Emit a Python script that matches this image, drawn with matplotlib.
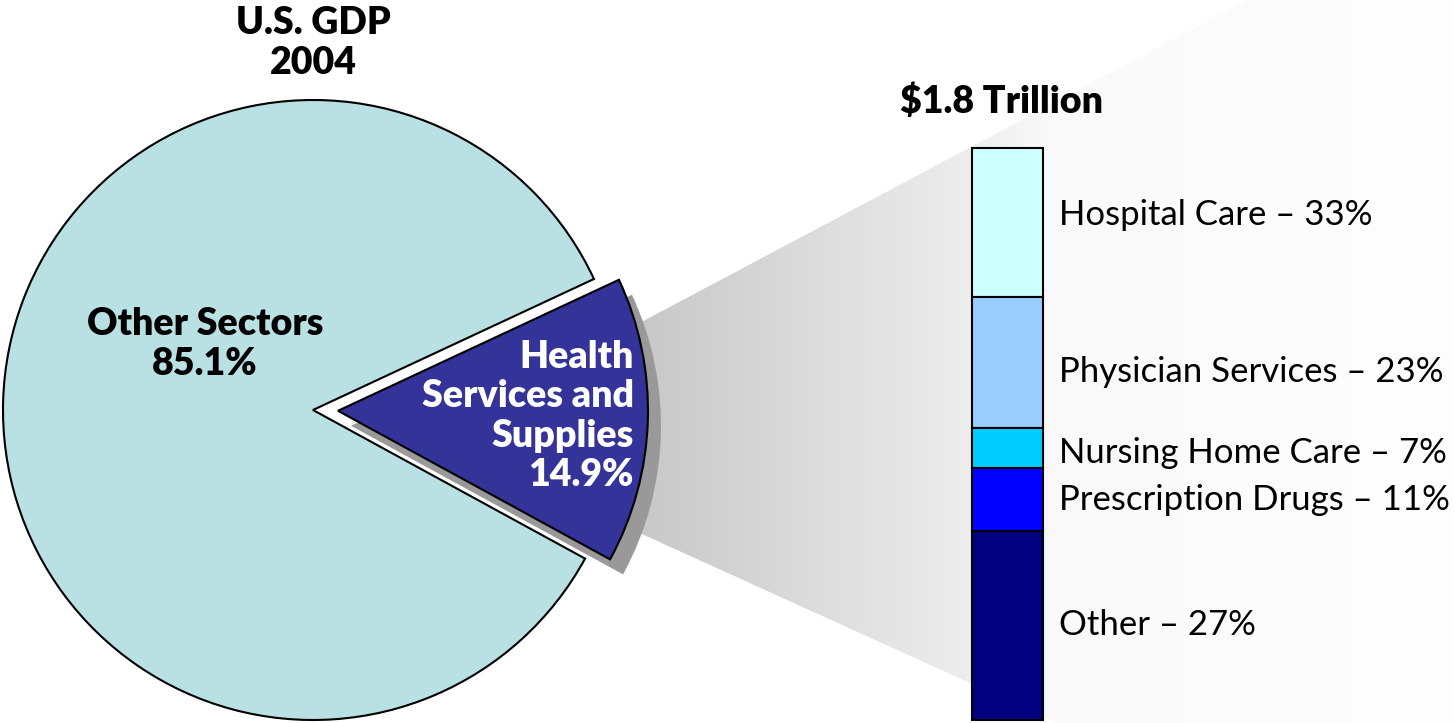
import numpy as np
import matplotlib
matplotlib.use("Agg")
import matplotlib.pyplot as plt
from matplotlib.patches import Wedge, Polygon

plt.rcParams['font.family'] = ['Lato', 'DejaVu Sans']

# ---- data ----
pie_labels = ["Other Sectors", "Health\nServices and\nSupplies"]
pie_values = [85.1, 14.9]
pie_colors = ["#b9e0e3", "#333399"]

bar_categories = ["Hospital Care", "Physician Services", "Nursing Home Care",
                  "Prescription Drugs", "Other"]
bar_label_pct = [33, 23, 7, 11, 27]
# segment heights as drawn in the picture (top -> bottom)
bar_segment_share = [26, 23, 7, 11, 33]
bar_colors = ["#ccffff", "#99ccff", "#00ccff", "#0000ff", "#000080"]

title_left = "U.S. GDP\n2004"
title_right = "$1.8 Trillion"

W, H = 1454, 723
fig = plt.figure(figsize=(W / 100, H / 100), dpi=100)
ax = fig.add_axes([0, 0, 1, 1])
ax.set_xlim(0, W)
ax.set_ylim(0, H)
ax.axis('off')

def Y(y_img):
    return H - y_img

BOLD_SIZE = 27
REG_SIZE = 25

# ---- gradient wedge (zoom connector) ----
poly_pts = [(600, Y(344)), (1454, Y(344) + 0.531 * 854),
            (1454, Y(533) - 0.456 * 811), (600, Y(515))]
poly = Polygon(poly_pts, closed=True, facecolor='none', edgecolor='none')
ax.add_patch(poly)
xs = np.linspace(600, 1454, 800)
vals = np.interp(xs, [640, 965, 1050, 1250, 1454], [200, 237, 249, 252, 254]) / 255.0
img = np.stack([vals, vals, vals], axis=-1)[np.newaxis, :, :].repeat(2, axis=0)
im = ax.imshow(img, extent=[600, 1454, 0, H], aspect='auto', zorder=0,
               interpolation='bilinear')
im.set_clip_path(poly)

# ---- pie ----
cx, cy, R = 313, Y(410), 310
wedges, _ = ax.pie(pie_values, colors=pie_colors, startangle=25,
                   explode=[0, 25], center=(cx, cy), radius=R,
                   wedgeprops=dict(edgecolor='black', linewidth=1.5, zorder=3),
                   frame=True)
ax.set_aspect('auto')
ax.set_xlim(0, W)
ax.set_ylim(0, H)
ax.axis('off')

hw = wedges[1]
shadow = Wedge((hw.center[0] + 13, hw.center[1] - 15), hw.r, hw.theta1, hw.theta2,
               facecolor='#999999', edgecolor='none', zorder=2)
ax.add_patch(shadow)

# pie labels
ax.text(205, Y(344), f"{pie_labels[0]}\n{pie_values[0]:.1f}%", ha='center', va='center',
        fontsize=BOLD_SIZE, fontweight='heavy', color='black', linespacing=1.2, zorder=5)
ax.text(634, Y(416), f"{pie_labels[1]}\n{pie_values[1]:.1f}%", ha='right', va='center',
        fontsize=BOLD_SIZE, fontweight='heavy', color='white', linespacing=1.2, zorder=5)

ax.text(313, Y(43), title_left, ha='center', va='center', fontsize=BOLD_SIZE,
        fontweight='heavy', linespacing=1.2)
ax.text(1002, Y(101), title_right, ha='center', va='center', fontsize=BOLD_SIZE,
        fontweight='heavy')

# ---- stacked bar ----
bx0, bx1, btop, bbot = 972, 1043, 148, 720
bax = fig.add_axes([bx0 / W, (H - bbot) / H, (bx1 - bx0) / W, (bbot - btop) / H])
bax.set_xlim(0, 1)
bax.set_ylim(0, sum(bar_segment_share))
bax.axis('off')
bottom = sum(bar_segment_share)
for share, col in zip(bar_segment_share, bar_colors):
    bottom -= share
    bax.bar(0.5, share, width=1.0, bottom=bottom, color=col, edgecolor='black',
            linewidth=1.5, clip_on=False)

# bar labels (image y positions of label centres)
label_y = [215, 372, 453, 500, 625]
for cat, pct, yy in zip(bar_categories, bar_label_pct, label_y):
    ax.text(1059, Y(yy), f"{cat} \u2013 {pct}%", ha='left', va='center',
            fontsize=REG_SIZE, color='black')

fig.savefig("out.png", dpi=100)
